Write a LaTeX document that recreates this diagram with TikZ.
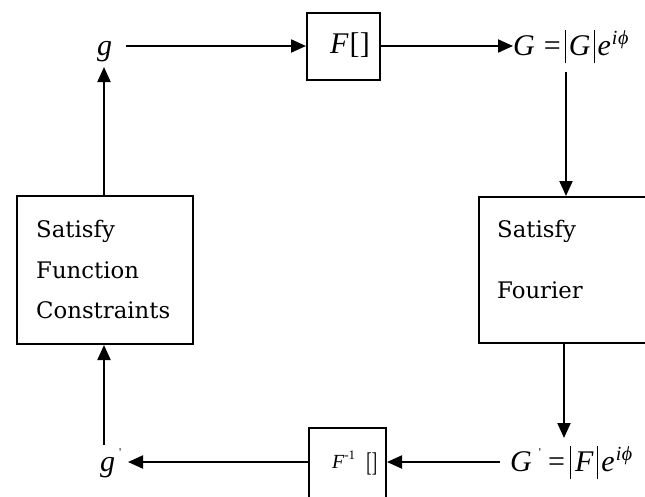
\documentclass[tikz,border=0pt]{standalone}
\usepackage{fontspec}
\usepackage{graphicx}
\usetikzlibrary{arrows.meta}
\newfontfamily\mfont{Liberation Serif}
\newfontfamily\tfont{DejaVu Serif}
\newcommand{\tallbar}{\raisebox{-8pt}{\rule{1.1pt}{33pt}}}
\newcommand{\eiphi}{\itshape e\hspace{1pt}\raisebox{11pt}{\fontsize{20}{20}\selectfont i\hspace{0.5pt}ϕ}}
\newcommand{\primemark}{\raisebox{15pt}{\fontsize{12}{12}\selectfont\upshape '}}
\begin{document}
\begin{tikzpicture}[x=1pt,y=-1pt,
  conn/.style={line width=2pt,-{Triangle[length=15pt,width=13pt]}},
  boxed/.style={draw,line width=2pt,rectangle,inner sep=0pt},
  mtext/.style={inner sep=0pt,anchor=base west,font=\mfont\fontsize{30}{32}\selectfont},
  btext/.style={inner sep=0pt,anchor=base west,font=\tfont\fontsize{22.8}{26}\selectfont}]
\useasboundingbox (0,0) rectangle (645,496);
\clip (0,0) rectangle (645,496);
\fill[white] (0,0) rectangle (645,496);
% boxes
\node[boxed,minimum width=73pt,minimum height=67pt] (F) at (343.5,46.5) {};
\node[boxed,minimum width=176pt,minimum height=148pt] (SF) at (105,270) {};
\node[boxed,minimum width=171pt,minimum height=146pt] (FS) at (564.5,270) {};
\node[boxed,minimum width=77pt,minimum height=80pt] (Fi) at (347.5,468) {};
% box texts
\node[mtext] (Ft) at (330,53) {\itshape F\upshape\hspace{1pt}[\hspace{0.5pt}]};
\node[mtext,font=\mfont\fontsize{20}{22}\selectfont] (Fit) at (332,468) {\itshape F\upshape\raisebox{9pt}{\fontsize{13}{13}\selectfont -1}\hspace{11pt}\raisebox{-3pt}{\scalebox{0.8}[1.35]{[\hspace{0.5pt}]}}};
\node[btext] (s1) at (36,237) {Satisfy};
\node[btext] (s2) at (36,278) {Function};
\node[btext] (s3) at (36,318) {Constraints};
\node[btext] (f1) at (497,237) {Satisfy};
\node[btext] (f2) at (497,298) {Fourier};
% math labels
\node[mtext] (g) at (97,55) {\itshape g};
\node[mtext] (G) at (513,55) {\itshape G\upshape\hspace{9pt}=\hspace{4pt}\tallbar\hspace{3pt}\itshape G\upshape\hspace{3pt}\tallbar\hspace{3pt}\eiphi};
\node[mtext] (Gp) at (510,471) {\itshape G\hspace{7pt}\primemark\upshape\hspace{7pt}=\hspace{5pt}\tallbar\hspace{4pt}\itshape F\upshape\hspace{4pt}\tallbar\hspace{3pt}\eiphi};
\node[mtext] (gp) at (100,471) {\itshape g\hspace{4pt}\primemark};
% connectors
\coordinate (ga) at (126,46);
\coordinate (gb) at (104,67);
\coordinate (Ga) at (513,46);
\coordinate (Gb) at (566,72);
\coordinate (Gpa) at (564,438);
\coordinate (Gpb) at (500,462);
\coordinate (gpa) at (128,462);
\coordinate (gpb) at (104,445);
\draw[conn] (ga) -- (F.west |- ga);
\draw[conn] (F.east |- Ga) -- (Ga);
\draw[conn] (Gb) -- (Gb |- FS.north);
\draw[conn] (Gpa |- FS.south) -- (Gpa);
\draw[conn] (Gpb) -- (Fi.east |- Gpb);
\draw[conn] (Fi.west |- gpa) -- (gpa);
\draw[conn] (gpb) -- (gpb |- SF.south);
\draw[conn] (gb |- SF.north) -- (gb);
\end{tikzpicture}
\end{document}
